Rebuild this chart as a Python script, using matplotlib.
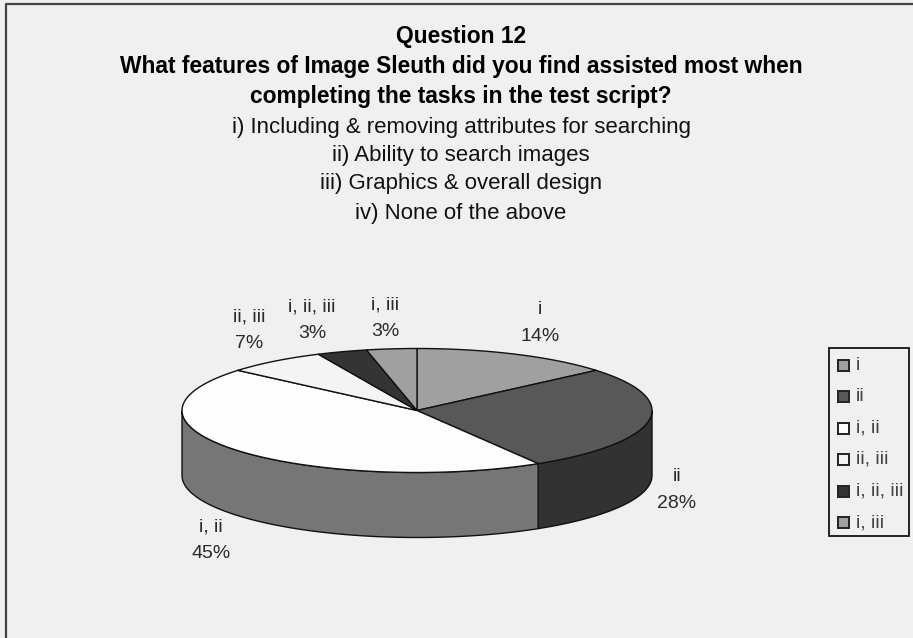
import matplotlib
matplotlib.use('Agg')
import matplotlib.pyplot as plt
import numpy as np
from matplotlib.patches import Polygon, Rectangle

plt.rcParams['font.family'] = ['Liberation Sans', 'DejaVu Sans']

# data (response counts, the labels are the rounded shares)
labels = ['i', 'ii', 'i, ii', 'ii, iii', 'i, ii, iii', 'i, iii']
values = [4, 8, 13, 2, 1, 1]
top_colors = ['#a0a0a0', '#585858', '#fdfdfd', '#f4f4f4', '#343434', '#a0a0a0']
side_colors = ['#707070', '#323232', '#767676', '#a0a0a0', '#1e1e1e', '#707070']
label_xy = [(540, 323), (677, 490), (211, 540), (249, 330), (312, 320), (385, 318)]

title_bold = ['Question 12',
              'What features of Image Sleuth did you find assisted most when',
              'completing the tasks in the test script?']
title_bold_y = [37, 67, 97]
title_plain = ['i) Including & removing attributes for searching',
               'ii) Ability to search images',
               'iii) Graphics & overall design',
               'iv) None of the above']
title_plain_y = [127, 156, 184, 213]

# pie geometry in pixels
cx, cy = 417, 410.5
rx, ry = 235, 62
depth = 65

fig = plt.figure(figsize=(9.13, 6.38), dpi=100, facecolor='#f0f0f0')
ax = fig.add_axes([0, 0, 1, 1])
ax.set_xlim(0, 913)
ax.set_ylim(638, 0)
ax.axis('off')


def rim(a0, a1):
    t = np.radians(np.linspace(a0, a1, 80))
    return cx + rx*np.sin(t), cy - ry*np.cos(t)


edges = np.cumsum([0] + values) / sum(values) * 360

# side walls (only the front part of the rim shows)
for i in range(len(values)):
    a0, a1 = max(edges[i], 90), min(edges[i+1], 270)
    if a0 >= a1:
        continue
    x, y = rim(a0, a1)
    pts = np.r_[np.c_[x, y], np.c_[x[::-1], y[::-1] + depth]]
    ax.add_patch(Polygon(pts, closed=True, fc=side_colors[i], ec='#111111', lw=1.0))

# top face
for i in range(len(values)):
    x, y = rim(edges[i], edges[i+1])
    pts = np.r_[[[cx, cy]], np.c_[x, y]]
    ax.add_patch(Polygon(pts, closed=True, fc=top_colors[i], ec='#111111', lw=1.0))

for (lx, ly), lab, v in zip(label_xy, labels, values):
    p = '%d%%' % round(100*v/sum(values))
    ax.text(lx, ly, lab + '\n' + p, ha='center', va='center', fontsize=14,
            color='#2a2a2a', linespacing=1.7)

for s, y in zip(title_bold, title_bold_y):
    ax.text(461, y, s, ha='center', va='center', fontsize=16.4, fontweight='bold', color='black')
for s, y in zip(title_plain, title_plain_y):
    ax.text(461, y, s, ha='center', va='center', fontsize=16, color='#111111')

# legend
ax.add_patch(Rectangle((829, 348), 80, 188, fc='#f0f0f0', ec='black', lw=1.2))
for i, lab in enumerate(labels):
    y = 365 + i*31.5
    ax.add_patch(Rectangle((837.5, y - 5.5), 11, 11, fc=top_colors[i], ec='#222222', lw=1.4))
    ax.text(856, y, lab, ha='left', va='center', fontsize=14, color='#444444')

# frame
ax.plot([6, 6, 913], [638, 4, 4], color='#444444', lw=1.6)

fig.savefig('out.png', dpi=100, facecolor=fig.get_facecolor())
plt.close(fig)
